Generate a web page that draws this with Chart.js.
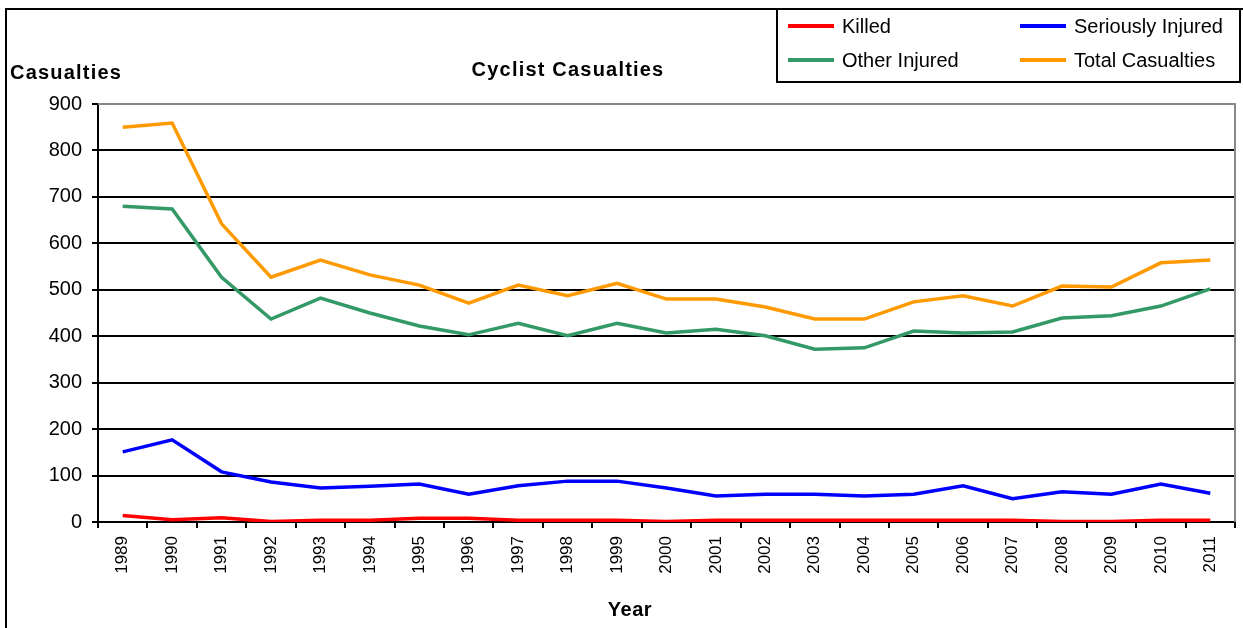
<!DOCTYPE html>
<html>
<head>
<meta charset="utf-8">
<script src="https://cdn.jsdelivr.net/npm/chart.js@4.4.1/dist/chart.umd.min.js"></script>
<style>
  body { margin: 0; background: #fff; }
  #wrap { position: relative; width: 1243px; height: 628px; }
</style>
</head>
<body>
<div id="wrap"><canvas id="myChart"></canvas></div>
<script>
// data
const years = ["1989", "1990", "1991", "1992", "1993", "1994", "1995", "1996", "1997", "1998", "1999", "2000",
  "2001", "2002", "2003", "2004", "2005", "2006", "2007", "2008", "2009", "2010", "2011"];
const killed = [14, 5, 9, 1, 4, 4, 8, 8, 4, 4, 4, 1, 4, 4, 4, 4, 4, 4, 4, 1, 1, 4, 4];
const seriouslyInjured = [151, 177, 108, 86, 73, 77, 82, 60, 78, 88, 88, 73, 56, 60, 60, 56, 60, 78, 50, 65, 60, 82, 62];
const otherInjured = [680, 674, 527, 437, 482, 450, 422, 403, 428, 401, 428, 407, 415, 401, 372, 375, 411, 407, 409, 439, 444, 465, 502];
const totalCasualties = [850, 859, 642, 527, 564, 532, 510, 471, 510, 487, 514, 480, 480, 463, 437, 437, 474, 487, 465, 508, 506, 558, 564];
const yTicks = [0, 100, 200, 300, 400, 500, 600, 700, 800, 900];

const FONT = "'Liberation Sans', Arial, sans-serif";

function makeSet(label, values, color) {
  return {
    label: label,
    data: values,
    borderColor: color,
    backgroundColor: color,
    borderWidth: 3.5,
    pointRadius: 0,
    tension: 0,
    fill: false,
  };
}

const data = {
  labels: years,
  datasets: [
    makeSet("Killed", killed, "#ff0000"),
    makeSet("Seriously Injured", seriouslyInjured, "#0000ff"),
    makeSet("Other Injured", otherInjured, "#339966"),
    makeSet("Total Casualties", totalCasualties, "#ff9900"),
  ],
};

// frame, titles, legend box and the grey plot border
const decor = {
  id: "decor",
  beforeDraw(chart) {
    const ctx = chart.ctx;
    ctx.save();
    ctx.fillStyle = "#fff";
    ctx.fillRect(0, 0, chart.width, chart.height);
    ctx.strokeStyle = "#000";
    ctx.lineWidth = 2;
    ctx.strokeRect(6, 9, chart.width + 20, chart.height + 20);

    ctx.fillStyle = "#000";
    ctx.font = "bold 20px " + FONT;
    ctx.letterSpacing = "1.2px";
    ctx.textBaseline = "middle";
    ctx.textAlign = "left";
    ctx.fillText("Casualties", 10, 73);
    ctx.textAlign = "center";
    ctx.fillText("Cyclist Casualties", 568, 70);
    ctx.letterSpacing = "0.5px";
    ctx.fillText("Year", 630, 610);
    ctx.restore();
  },
  afterDatasetsDraw(chart) {
    const ctx = chart.ctx;
    const a = chart.chartArea;
    ctx.save();
    ctx.strokeStyle = "#888";
    ctx.lineWidth = 2;
    ctx.beginPath();
    ctx.moveTo(a.left, a.top);
    ctx.lineTo(a.right, a.top);
    ctx.lineTo(a.right, a.bottom);
    ctx.stroke();

    // legend
    ctx.fillStyle = "#fff";
    ctx.fillRect(777, 9, 463, 73);
    ctx.strokeStyle = "#000";
    ctx.lineWidth = 2;
    ctx.strokeRect(777, 9, 463, 73);
    const cols = [788, 1020];
    const rows = [26, 60];
    ctx.font = "20px " + FONT;
    ctx.textBaseline = "middle";
    ctx.textAlign = "left";
    chart.data.datasets.forEach((ds, i) => {
      const x = cols[i % 2];
      const y = rows[Math.floor(i / 2)];
      ctx.strokeStyle = ds.borderColor;
      ctx.lineWidth = 4;
      ctx.beginPath();
      ctx.moveTo(x, y);
      ctx.lineTo(x + 46, y);
      ctx.stroke();
      ctx.fillStyle = "#000";
      ctx.fillText(ds.label, x + 54, y + 1);
    });
    ctx.restore();
  },
};

const config = {
  type: "line",
  data: data,
  plugins: [decor],
  options: {
    responsive: true,
    maintainAspectRatio: false,
    animation: false,
    layout: { padding: { left: 0, right: 8, top: 104, bottom: 0 } },
    plugins: {
      legend: { display: false },
      title: { display: false },
      tooltip: { enabled: false },
    },
    scales: {
      x: {
        offset: true,
        afterFit: (s) => { s.height = 106; },
        grid: {
          offset: true,
          drawOnChartArea: false,
          color: "#000",
          lineWidth: 2,
          tickLength: 6,
        },
        border: { color: "#000", width: 2 },
        ticks: {
          color: "#000",
          font: { family: FONT, size: 17 },
          minRotation: 90,
          maxRotation: 90,
          padding: 8,
          autoSkip: false,
        },
      },
      y: {
        min: 0,
        max: 900,
        afterFit: (s) => { s.width = 98; },
        afterBuildTicks: (s) => { s.ticks = yTicks.map((v) => ({ value: v })); },
        grid: {
          color: "#000",
          lineWidth: 2,
          tickLength: 6,
        },
        border: { color: "#000", width: 2 },
        ticks: {
          color: "#000",
          font: { family: FONT, size: 20 },
          padding: 10,
        },
      },
    },
  },
};

const myChart = new Chart(document.getElementById("myChart"), config);
</script>
</body>
</html>
